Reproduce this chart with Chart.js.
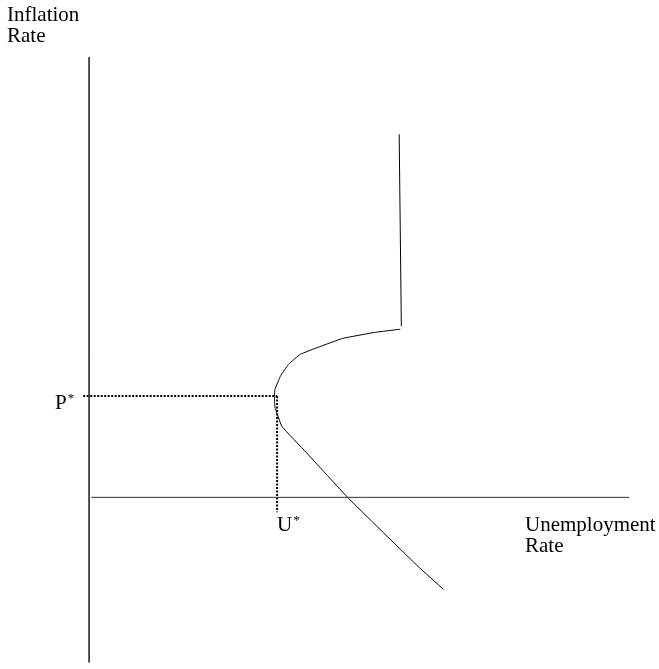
<!DOCTYPE html>
<html>
<head>
<meta charset="utf-8">
<title>Phillips curve</title>
<script src="https://cdn.jsdelivr.net/npm/chart.js@4/dist/chart.umd.min.js"></script>
<style>
  html, body { margin: 0; padding: 0; background: #fff; }
  #wrap { width: 659px; height: 669px; }
</style>
</head>
<body>
<div id="wrap"><canvas id="chart" width="659" height="669"></canvas></div>
<script>
// natural rate values
const pStar = 2.3;
const uStar = 3.48;

// long-run vertical piece
const topX = [5.74, 5.78];
const topY = [8.25, 3.89];

// curve, from the top end going round the nose and down
const curveX = [5.76, 5.30, 4.69, 4.24, 3.91, 3.69, 3.54, 3.44, 3.43, 3.44, 3.57, 4.02, 4.80, 6.09, 6.56];
const curveY = [3.82, 3.75, 3.61, 3.41, 3.25, 3.02, 2.75, 2.45, 2.30, 2.05, 1.61, 1.02, -0.02, -1.57, -2.09];

// axes
const yAxisX = [0, 0];
const yAxisY = [10.0, -3.75];
const xAxisX = [0.04, 10.0];
const xAxisY = [0, 0];

// text labels
const notes = [
  { text: 'Inflation', x: -1.52, y: 10.82 },
  { text: 'Rate', x: -1.52, y: 10.34 },
  { text: 'Unemployment', x: 8.07, y: -0.77 },
  { text: 'Rate', x: 8.07, y: -1.25 },
  { text: 'P', sup: '*', x: -0.63, y: 2.0 },
  { text: 'U', sup: '*', x: uStar, y: -0.77 }
];

function pts(xs, ys) {
  return xs.map((x, i) => ({ x: x, y: ys[i] }));
}

function line(data, extra) {
  return Object.assign({
    data: data,
    showLine: true,
    borderColor: '#000',
    borderWidth: 1,
    pointRadius: 0,
    fill: false,
    tension: 0
  }, extra || {});
}

const labelPlugin = {
  id: 'labels',
  afterDatasetsDraw(chart) {
    const ctx = chart.ctx;
    const xs = chart.scales.x, ys = chart.scales.y;
    ctx.save();
    ctx.fillStyle = '#000';
    ctx.textBaseline = 'alphabetic';
    ctx.textAlign = 'left';
    notes.forEach(n => {
      const px = xs.getPixelForValue(n.x);
      const py = ys.getPixelForValue(n.y);
      ctx.font = '21px "Liberation Serif", "Times New Roman", serif';
      ctx.fillText(n.text, px, py);
      if (n.sup) {
        const w = ctx.measureText(n.text).width;
        ctx.font = '13px "Liberation Serif", "Times New Roman", serif';
        ctx.fillText(n.sup, px + w + 1, py - 7);
      }
    });
    ctx.restore();
  }
};

new Chart(document.getElementById('chart'), {
  type: 'scatter',
  data: {
    datasets: [
      line(pts(yAxisX, yAxisY), { borderColor: '#333' }),
      line(pts(xAxisX, xAxisY), { borderColor: '#333' }),
      line(pts([-0.11, uStar], [pStar, pStar]), { borderWidth: 2, borderDash: [2, 1.5] }),
      line(pts([uStar, uStar], [pStar, -0.34]), { borderWidth: 2, borderDash: [2, 1.5] }),
      line(pts(topX, topY)),
      line(pts(curveX, curveY), { tension: 0.1 })
    ]
  },
  options: {
    responsive: false,
    animation: false,
    layout: { padding: 0 },
    plugins: { legend: { display: false }, tooltip: { enabled: false } },
    scales: {
      x: { type: 'linear', min: -1.65, max: 10.55, display: false },
      y: { type: 'linear', min: -3.9, max: 11.3, display: false }
    }
  },
  plugins: [labelPlugin]
});
</script>
</body>
</html>
